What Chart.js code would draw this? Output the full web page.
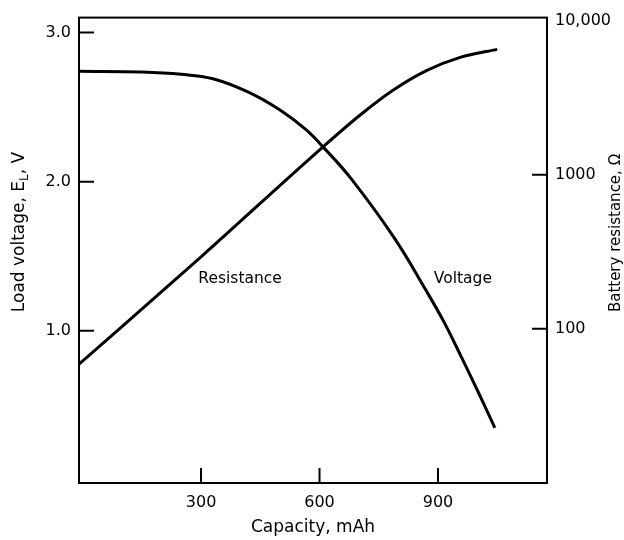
<!DOCTYPE html>
<html>
<head>
<meta charset="utf-8">
<script src="https://cdn.jsdelivr.net/npm/chart.js@4"></script>
<style>
  body { margin: 0; background: #fff; }
  #wrap { width: 624px; height: 540px; }
</style>
</head>
<body>
<div id="wrap"><canvas id="chart" width="624" height="540"></canvas></div>
<script>
// ── Data ───────────────────────────────────
const capacityV = [-9, 150, 250, 330, 420, 500, 565, 610, 680, 790, 870, 915, 960, 1000, 1044];
const voltage   = [2.74, 2.735, 2.72, 2.69, 2.60, 2.48, 2.35, 2.23, 2.02, 1.62, 1.27, 1.06, 0.82, 0.60, 0.35];

const capacityR  = [-9, 300, 609, 703, 786, 872, 956, 1050];
const resistance = [59, 293, 1517, 2440, 3530, 4750, 5770, 6500];

const xTicks     = [300, 600, 900];
const vTicks     = [1, 2, 3];
const vLabels    = ['1.0', '2.0', '3.0'];
const rTicks     = [100, 1000, 10000];
const rLabels    = ['100', '1000', '10,000'];

const FONT = 'DejaVu Sans';

// ── Frame, inward ticks, titles, curve labels ──
const decor = {
    id: 'decor',
    afterDraw(chart) {
        const { ctx, chartArea: a, scales } = chart;
        ctx.save();
        ctx.strokeStyle = '#000';
        ctx.lineWidth = 2;
        ctx.strokeRect(a.left, a.top, a.right - a.left, a.bottom - a.top);

        ctx.beginPath();
        xTicks.forEach(v => {
            const p = scales.x.getPixelForValue(v);
            ctx.moveTo(p, a.bottom); ctx.lineTo(p, a.bottom - 15);
        });
        vTicks.forEach(v => {
            const p = scales.y.getPixelForValue(v);
            ctx.moveTo(a.left, p); ctx.lineTo(a.left + 15, p);
        });
        rTicks.slice(0, 2).forEach(v => {
            const p = scales.y1.getPixelForValue(v);
            ctx.moveTo(a.right, p); ctx.lineTo(a.right - 15, p);
        });
        ctx.stroke();

        ctx.fillStyle = '#000';
        ctx.textBaseline = 'middle';

        // curve labels
        ctx.font = `15.5px "${FONT}"`;
        ctx.textAlign = 'center';
        ctx.fillText('Resistance', scales.x.getPixelForValue(399), scales.y.getPixelForValue(1.35));
        ctx.fillText('Voltage', scales.x.getPixelForValue(963), scales.y.getPixelForValue(1.35));

        // x title
        ctx.font = `17px "${FONT}"`;
        ctx.fillText('Capacity, mAh', (a.left + a.right) / 2, 528);

        // left title with subscript
        const main = `17px "${FONT}"`, sub = `12px "${FONT}"`;
        const p1 = 'Load voltage, E', p2 = 'L', p3 = ', V';
        ctx.font = main; const w1 = ctx.measureText(p1).width, w3 = ctx.measureText(p3).width;
        ctx.font = sub;  const w2 = ctx.measureText(p2).width;
        ctx.save();
        ctx.translate(20, 232);
        ctx.rotate(-Math.PI / 2);
        ctx.textAlign = 'left';
        let x0 = -(w1 + w2 + w3) / 2;
        ctx.font = main; ctx.fillText(p1, x0, 0); x0 += w1;
        ctx.font = sub;  ctx.fillText(p2, x0, 5); x0 += w2;
        ctx.font = main; ctx.fillText(p3, x0, 0);
        ctx.restore();

        // right title
        ctx.save();
        ctx.translate(616, 233);
        ctx.rotate(-Math.PI / 2);
        ctx.textAlign = 'center';
        ctx.font = `15px "${FONT}"`;
        ctx.fillText('Battery resistance, Ω', 0, 0);
        ctx.restore();

        ctx.restore();
    }
};

// ── Chart ──────────────────────────────────
const tickFont = { family: FONT, size: 16 };

new Chart(document.getElementById('chart').getContext('2d'), {
    type: 'line',
    data: {
        datasets: [
            {
                label: 'Voltage',
                data: capacityV.map((c, i) => ({ x: c, y: voltage[i] })),
                yAxisID: 'y',
                borderColor: '#000',
                borderWidth: 3,
                pointRadius: 0,
                tension: 0.4
            },
            {
                label: 'Resistance',
                data: capacityR.map((c, i) => ({ x: c, y: resistance[i] })),
                yAxisID: 'y1',
                borderColor: '#000',
                borderWidth: 3,
                pointRadius: 0,
                cubicInterpolationMode: 'monotone'
            }
        ]
    },
    options: {
        responsive: false,
        animation: false,
        layout: { padding: { top: 15 } },
        plugins: { legend: { display: false }, tooltip: { enabled: false } },
        scales: {
            x: {
                type: 'linear',
                min: -9, max: 1176,
                afterBuildTicks: s => { s.ticks = xTicks.map(v => ({ value: v })); },
                afterFit: s => { s.height = 57; },
                grid: { display: false, drawTicks: false },
                border: { display: false },
                ticks: { color: '#000', font: tickFont, padding: 10, maxRotation: 0, autoSkip: false }
            },
            y: {
                type: 'linear',
                position: 'left',
                min: -0.02, max: 3.1,
                afterBuildTicks: s => { s.ticks = vTicks.map(v => ({ value: v })); },
                afterFit: s => { s.width = 79; },
                grid: { display: false, drawTicks: false },
                border: { display: false },
                ticks: {
                    color: '#000', font: tickFont, padding: 8, autoSkip: false,
                    callback: v => vLabels[vTicks.indexOf(v)]
                }
            },
            y1: {
                type: 'logarithmic',
                position: 'right',
                min: 10, max: 10450,
                afterBuildTicks: s => { s.ticks = rTicks.map(v => ({ value: v })); },
                afterFit: s => { s.width = 77; },
                grid: { display: false, drawTicks: false },
                border: { display: false },
                ticks: {
                    color: '#000', font: tickFont, padding: 8, autoSkip: false,
                    callback: v => rLabels[rTicks.indexOf(v)]
                }
            }
        }
    },
    plugins: [decor]
});
</script>
</body>
</html>
